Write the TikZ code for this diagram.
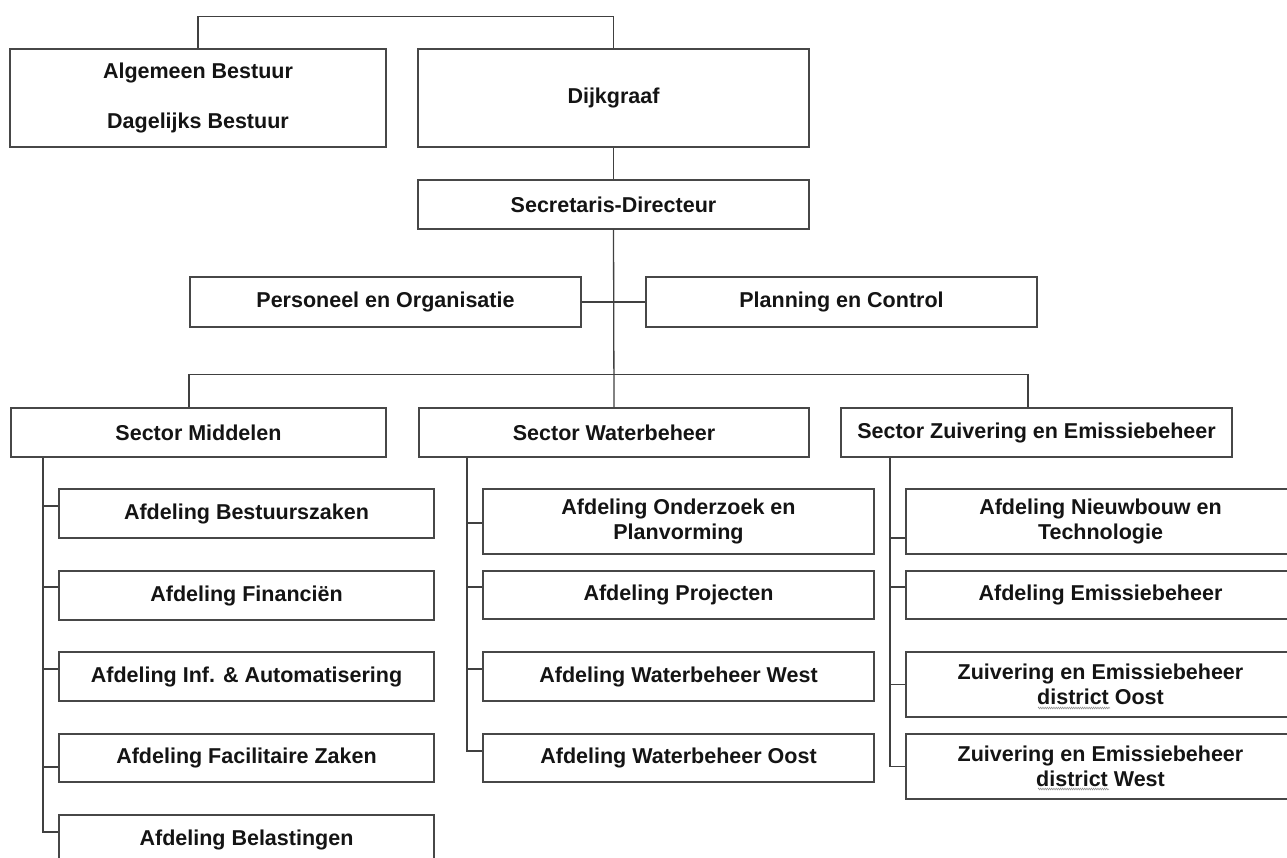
\documentclass[tikz,border=0pt]{standalone}
\usepackage{fontspec}
\setmainfont{Liberation Sans}
\usetikzlibrary{calc,decorations.pathmorphing}
\begin{document}
\begin{tikzpicture}[x=1pt,y=-1pt,
  box/.style={draw=black!72,line width=1.3pt,fill=white,inner sep=0pt,align=center,
    font=\fontsize{21.5}{25}\selectfont\bfseries,text=black!92},
  conn/.style={draw=black!75,line width=1.3pt},
  squig/.style={draw=black!45,line width=0.5pt,decorate,decoration={zigzag,segment length=2.2pt,amplitude=0.9pt}}]
\useasboundingbox[fill=white] (0,0) rectangle (1287,858);
% top level
\node[box,minimum width=376pt,minimum height=98pt] (alg) at (198,98) {Algemeen Bestuur\\[25pt]Dagelijks Bestuur};
\node[box,minimum width=391pt,minimum height=98pt] (dijk) at (613.5,98) {Dijkgraaf};
\node[box,minimum width=391pt,minimum height=49pt] (sec) at (613.5,204.5) {Secretaris-Directeur};
\node[box,minimum width=391pt,minimum height=50pt] (pers) at (385.5,302) {Personeel en Organisatie};
\node[box,minimum width=391pt,minimum height=50pt] (plan) at (841.5,302) {Planning en Control};
% sectors
\node[box,minimum width=375pt,minimum height=49pt] (smid) at (198.5,432.5) {Sector Middelen};
\node[box,minimum width=390pt,minimum height=49pt] (swat) at (614,432.5) {Sector Waterbeheer};
\node[box,minimum width=391pt,minimum height=49pt] (szui) at (1036.5,432.5) {Sector Zuivering en Emissiebeheer};
% Middelen
\node[box,minimum width=375pt,minimum height=49pt] (mb) at (246.5,513.5) {Afdeling Bestuurszaken};
\node[box,minimum width=375pt,minimum height=49pt] (mf) at (246.5,595.5) {Afdeling Financiën};
\node[box,minimum width=375pt,minimum height=49pt] (mi) at (246.5,676.5) {Afdeling Inf. \& Automatisering};
\node[box,minimum width=375pt,minimum height=48pt] (mfz) at (246.5,758) {Afdeling Facilitaire Zaken};
\node[box,minimum width=375pt,minimum height=49pt] (mbl) at (246.5,839.5) {Afdeling Belastingen};
% Waterbeheer
\node[box,minimum width=391pt,minimum height=65pt] (wo) at (678.5,521.5) {Afdeling Onderzoek en\\Planvorming};
\node[box,minimum width=391pt,minimum height=48pt] (wp) at (678.5,595) {Afdeling Projecten};
\node[box,minimum width=391pt,minimum height=49pt] (ww) at (678.5,676.5) {Afdeling Waterbeheer West};
\node[box,minimum width=391pt,minimum height=48pt] (woo) at (678.5,758) {Afdeling Waterbeheer Oost};
% Zuivering
\node[box,minimum width=389pt,minimum height=65pt] (zn) at (1100.5,521.5) {Afdeling Nieuwbouw en\\Technologie};
\node[box,minimum width=389pt,minimum height=48pt] (ze) at (1100.5,595) {Afdeling Emissiebeheer};
\node[box,minimum width=389pt,minimum height=65pt] (zo) at (1100.5,684.5) {Zuivering en Emissiebeheer\\district Oost};
\node[box,minimum width=389pt,minimum height=65pt] (zw) at (1100.5,766.5) {Zuivering en Emissiebeheer\\district West};
% spell-check squiggles
\draw[squig] ($(zo.center)+(-62.5,23.5)$) -- ($(zo.center)+(9.5,23.5)$);
\draw[squig] ($(zw.center)+(-62.5,22.5)$) -- ($(zw.center)+(8.5,22.5)$);
% connectors top
\draw[conn] (alg.north) -- ++(0,-32) -| (dijk.north);
\draw[conn] (dijk.south) -- (sec.north);
\draw[conn] (sec.south) -- (swat.north);
\draw[conn] (pers.east) -- (plan.west);
\draw[conn] ([xshift=-9.5pt]smid.north) -- ++(0,-33) -| ([xshift=-8.5pt]szui.north);
% Middelen branches
\coordinate (m0) at ([xshift=-155.5pt]smid.south);
\path ([yshift=7.5pt]mb.west) coordinate (mbt)
      ([yshift=8.5pt]mf.west) coordinate (mft)
      ([yshift=7.5pt]mi.west) coordinate (mit)
      ([yshift=-9pt]mfz.west) coordinate (mfzt)
      ([yshift=7.5pt]mbl.west) coordinate (mblt);
\draw[conn] (m0) |- (mblt);
\foreach \t in {mbt,mft,mit,mfzt} \draw[conn] (m0 |- \t) -- (\t);
% Waterbeheer branches
\coordinate (w0) at ([xshift=-147pt]swat.south);
\path ([yshift=-1.5pt]wo.west) coordinate (wot)
      ([yshift=8pt]wp.west) coordinate (wpt)
      ([yshift=7.5pt]ww.west) coordinate (wwt)
      ([yshift=7pt]woo.west) coordinate (woot);
\draw[conn] (w0) |- (woot);
\foreach \t in {wot,wpt,wwt} \draw[conn] (w0 |- \t) -- (\t);
% Zuivering branches
\coordinate (z0) at ([xshift=-146.5pt]szui.south);
\path ([yshift=-16.5pt]zn.west) coordinate (znt)
      ([yshift=8pt]ze.west) coordinate (zet)
      (zo.west) coordinate (zot)
      (zw.west) coordinate (zwt);
\draw[conn] (z0) |- (zwt);
\foreach \t in {znt,zet,zot} \draw[conn] (z0 |- \t) -- (\t);
\end{tikzpicture}
\end{document}
